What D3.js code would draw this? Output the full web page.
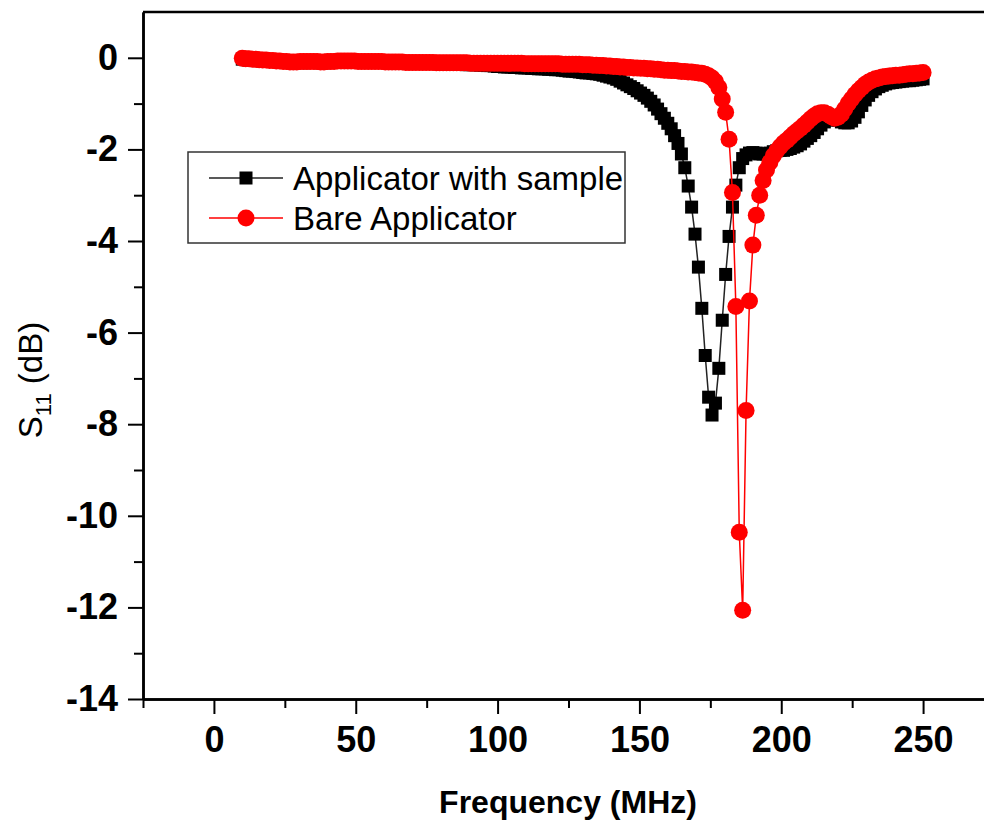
<!DOCTYPE html>
<html lang="en">
<head>
<meta charset="UTF-8">
<title>S11 vs Frequency</title>
<style>
  body { margin: 0; background: #fff; }
  svg { display: block; font-family: Arial, "Liberation Sans", sans-serif; }
  .tick text { font-weight: bold; font-size: 36px; fill: #000; }
  .tick line { stroke: #000; stroke-width: 2; }
  .domain { stroke: #000; stroke-width: 2.5; }
</style>
</head>
<body>
<svg id="chart" width="984" height="821"></svg>
<script src="https://d3js.org/d3.v7.min.js"></script>
<script>
// frequency sweep (MHz)
const freq = [
  10,11.2,12.4,13.6,14.8,16,17.2,18.4,19.6,20.8,
  22,23.2,24.4,25.6,26.8,28,29.2,30.4,31.6,32.8,
  34,35.2,36.4,37.6,38.8,40,41.2,42.4,43.6,44.8,
  46,47.2,48.4,49.6,50.8,52,53.2,54.4,55.6,56.8,
  58,59.2,60.4,61.6,62.8,64,65.2,66.4,67.6,68.8,
  70,71.2,72.4,73.6,74.8,76,77.2,78.4,79.6,80.8,
  82,83.2,84.4,85.6,86.8,88,89.2,90.4,91.6,92.8,
  94,95.2,96.4,97.6,98.8,100,101.2,102.4,103.6,104.8,
  106,107.2,108.4,109.6,110.8,112,113.2,114.4,115.6,116.8,
  118,119.2,120.4,121.6,122.8,124,125.2,126.4,127.6,128.8,
  130,131.2,132.4,133.6,134.8,136,137.2,138.4,139.6,140.8,
  142,143.2,144.4,145.6,146.8,148,149.2,150.4,151.6,152.8,
  154,155.2,156.4,157.6,158.8,160,161.2,162.4,163.6,164.8,
  166,167.2,168.4,169.6,170.8,172,173.2,174.4,175.6,176.8,
  178,179.2,180.4,181.6,182.8,184,185.2,186.4,187.6,188.8,
  190,191.2,192.4,193.6,194.8,196,197.2,198.4,199.6,200.8,
  202,203.2,204.4,205.6,206.8,208,209.2,210.4,211.6,212.8,
  214,215.2,216.4,217.6,218.8,220,221.2,222.4,223.6,224.8,
  226,227.2,228.4,229.6,230.8,232,233.2,234.4,235.6,236.8,
  238,239.2,240.4,241.6,242.8,244,245.2,246.4,247.6,248.8,
  250
];

// S11 (dB), applicator with sample
const withSample = [
  -0.03,-0.04,-0.05,-0.05,-0.06,-0.06,-0.07,-0.07,-0.08,-0.08,
  -0.08,-0.09,-0.09,-0.09,-0.1,-0.1,-0.1,-0.1,-0.11,-0.1,
  -0.1,-0.1,-0.1,-0.11,-0.11,-0.1,-0.1,-0.1,-0.1,-0.1,
  -0.1,-0.1,-0.09,-0.09,-0.1,-0.1,-0.1,-0.1,-0.1,-0.1,
  -0.1,-0.1,-0.1,-0.1,-0.11,-0.11,-0.11,-0.11,-0.11,-0.11,
  -0.11,-0.11,-0.12,-0.12,-0.12,-0.12,-0.12,-0.12,-0.13,-0.13,
  -0.13,-0.13,-0.13,-0.14,-0.14,-0.14,-0.15,-0.15,-0.15,-0.15,
  -0.16,-0.16,-0.17,-0.17,-0.18,-0.19,-0.19,-0.2,-0.2,-0.2,
  -0.21,-0.21,-0.22,-0.22,-0.22,-0.23,-0.23,-0.24,-0.24,-0.24,
  -0.25,-0.25,-0.26,-0.26,-0.27,-0.28,-0.29,-0.29,-0.3,-0.31,
  -0.32,-0.33,-0.33,-0.34,-0.35,-0.36,-0.38,-0.4,-0.42,-0.44,
  -0.47,-0.51,-0.55,-0.59,-0.63,-0.67,-0.72,-0.77,-0.82,-0.88,
  -0.95,-1.03,-1.12,-1.22,-1.32,-1.43,-1.55,-1.7,-1.87,-2.1,
  -2.4,-2.8,-3.26,-3.85,-4.57,-5.47,-6.5,-7.41,-7.8,-7.54,
  -6.78,-5.73,-4.73,-3.9,-3.26,-2.78,-2.4,-2.2,-2.12,-2.08,
  -2.07,-2.08,-2.1,-2.1,-2.1,-2.08,-2.05,-2.03,-2.02,-2.02,
  -2.0,-1.98,-1.95,-1.92,-1.88,-1.82,-1.76,-1.7,-1.63,-1.55,
  -1.47,-1.4,-1.36,-1.33,-1.33,-1.36,-1.4,-1.42,-1.42,-1.38,
  -1.3,-1.18,-1.04,-0.92,-0.82,-0.74,-0.68,-0.63,-0.6,-0.57,
  -0.55,-0.54,-0.53,-0.52,-0.51,-0.5,-0.5,-0.49,-0.48,-0.47,
  -0.46
];

// S11 (dB), bare applicator
const bare = [
  -0.01,-0.02,-0.02,-0.03,-0.03,-0.04,-0.05,-0.05,-0.06,-0.06,
  -0.07,-0.07,-0.08,-0.08,-0.09,-0.09,-0.09,-0.08,-0.08,-0.08,
  -0.08,-0.08,-0.08,-0.09,-0.09,-0.08,-0.08,-0.08,-0.07,-0.07,
  -0.07,-0.07,-0.07,-0.07,-0.08,-0.08,-0.08,-0.08,-0.08,-0.08,
  -0.08,-0.08,-0.09,-0.09,-0.09,-0.09,-0.09,-0.09,-0.1,-0.1,
  -0.1,-0.1,-0.1,-0.1,-0.1,-0.1,-0.1,-0.11,-0.11,-0.11,
  -0.11,-0.11,-0.11,-0.11,-0.11,-0.11,-0.11,-0.12,-0.12,-0.12,
  -0.12,-0.12,-0.12,-0.12,-0.12,-0.12,-0.12,-0.12,-0.12,-0.12,
  -0.12,-0.12,-0.12,-0.13,-0.13,-0.13,-0.13,-0.13,-0.13,-0.13,
  -0.13,-0.13,-0.13,-0.13,-0.14,-0.14,-0.14,-0.14,-0.14,-0.14,
  -0.15,-0.15,-0.15,-0.16,-0.16,-0.17,-0.17,-0.18,-0.18,-0.19,
  -0.19,-0.2,-0.2,-0.21,-0.21,-0.22,-0.22,-0.23,-0.23,-0.24,
  -0.24,-0.25,-0.25,-0.26,-0.27,-0.27,-0.28,-0.28,-0.29,-0.3,
  -0.3,-0.31,-0.31,-0.32,-0.33,-0.34,-0.36,-0.39,-0.44,-0.52,
  -0.65,-0.9,-1.19,-1.78,-2.94,-5.43,-10.36,-12.06,-7.7,-5.31,
  -4.09,-3.44,-3.0,-2.68,-2.45,-2.28,-2.14,-2.03,-1.94,-1.86,
  -1.8,-1.73,-1.66,-1.6,-1.54,-1.47,-1.4,-1.33,-1.27,-1.22,
  -1.2,-1.2,-1.23,-1.28,-1.32,-1.3,-1.23,-1.12,-1.0,-0.9,
  -0.8,-0.72,-0.65,-0.58,-0.53,-0.49,-0.46,-0.44,-0.42,-0.41,
  -0.4,-0.39,-0.38,-0.38,-0.37,-0.36,-0.35,-0.35,-0.34,-0.33,
  -0.32
];

const xTicks = [0, 50, 100, 150, 200, 250];
const xMinor = [-25, 25, 75, 125, 175, 225];
const yTicks = [-14, -12, -10, -8, -6, -4, -2, 0];
const yMinor = [-13, -11, -9, -7, -5, -3, -1];
const seriesNames = ["Applicator with sample", "Bare Applicator"];

const svg = d3.select("#chart");
const plotL = 143, plotR = 994, plotT = 12, plotB = 699;

const x = d3.scaleLinear().domain([-25, 275]).range([plotL, plotR]);
const y = d3.scaleLinear().domain([-14, 1]).range([plotB, plotT]);

// frame top line (no ticks on top)
svg.append("line")
  .attr("x1", plotL).attr("x2", plotR)
  .attr("y1", plotT).attr("y2", plotT)
  .attr("stroke", "#000").attr("stroke-width", 2.5);

// minor ticks
svg.append("g")
  .attr("transform", `translate(0,${plotB})`)
  .call(d3.axisBottom(x).tickValues(xMinor).tickSize(9).tickSizeOuter(0).tickFormat(""));
svg.append("g")
  .attr("transform", `translate(${plotL},0)`)
  .call(d3.axisLeft(y).tickValues(yMinor).tickSize(9).tickSizeOuter(0).tickFormat(""));

// major axes
svg.append("g")
  .attr("transform", `translate(0,${plotB})`)
  .call(d3.axisBottom(x).tickValues(xTicks).tickSize(15).tickSizeOuter(0)
    .tickPadding(12).tickFormat(d => String(d)));
svg.append("g")
  .attr("transform", `translate(${plotL},0)`)
  .call(d3.axisLeft(y).tickValues(yTicks).tickSize(15).tickSizeOuter(0)
    .tickPadding(10).tickFormat(d => String(d)));

// axis titles
svg.append("text")
  .attr("x", 568).attr("y", 813)
  .attr("text-anchor", "middle")
  .attr("font-weight", "bold").attr("font-size", 32)
  .text("Frequency (MHz)");

const yTitle = svg.append("text")
  .attr("transform", "translate(42,380) rotate(-90)")
  .attr("text-anchor", "middle")
  .attr("font-size", 33);
yTitle.append("tspan").text("S");
yTitle.append("tspan").attr("font-size", 22).attr("dy", 9).text("11");
yTitle.append("tspan").attr("dy", -9).text(" (dB)");

// data
const sampleData = freq.map((f, i) => [f, withSample[i]]);
const bareData = freq.map((f, i) => [f, bare[i]]);
const line = d3.line().x(d => x(d[0])).y(d => y(d[1]));

const sq = 13, cr = 8.5;

svg.append("path").datum(sampleData)
  .attr("fill", "none").attr("stroke", "#222").attr("stroke-width", 1.5)
  .attr("d", line);
svg.append("g").selectAll("rect").data(sampleData).join("rect")
  .attr("x", d => x(d[0]) - sq / 2).attr("y", d => y(d[1]) - sq / 2)
  .attr("width", sq).attr("height", sq).attr("fill", "#000");

svg.append("path").datum(bareData)
  .attr("fill", "none").attr("stroke", "#ff0000").attr("stroke-width", 1.5)
  .attr("d", line);
svg.append("g").selectAll("circle").data(bareData).join("circle")
  .attr("cx", d => x(d[0])).attr("cy", d => y(d[1]))
  .attr("r", cr).attr("fill", "#ff0000");

// legend
const lg = svg.append("g");
lg.append("rect")
  .attr("x", 188).attr("y", 152).attr("width", 437).attr("height", 91)
  .attr("fill", "#fff").attr("stroke", "#333").attr("stroke-width", 1.5);
const rows = [178, 218];
seriesNames.forEach((name, i) => {
  const cy = rows[i];
  const col = i === 0 ? "#222" : "#ff0000";
  lg.append("line").attr("x1", 209).attr("x2", 283).attr("y1", cy).attr("y2", cy)
    .attr("stroke", col).attr("stroke-width", 1.5);
  if (i === 0) {
    lg.append("rect").attr("x", 246 - sq / 2).attr("y", cy - sq / 2)
      .attr("width", sq).attr("height", sq).attr("fill", "#000");
  } else {
    lg.append("circle").attr("cx", 246).attr("cy", cy).attr("r", cr).attr("fill", "#ff0000");
  }
  lg.append("text").attr("x", 293).attr("y", cy).attr("dy", "0.36em")
    .attr("font-size", 33).attr("fill", "#000").text(name);
});
</script>
</body>
</html>
